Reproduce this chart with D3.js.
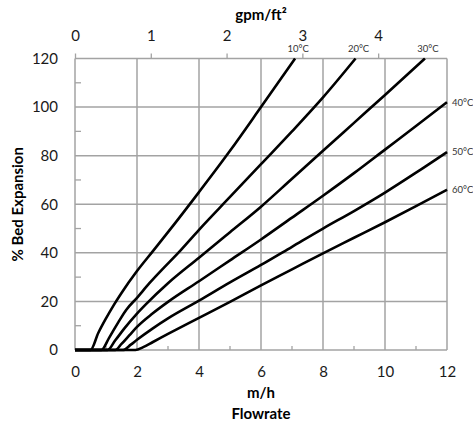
<!DOCTYPE html>
<html>
<head>
<meta charset="utf-8">
<script src="https://cdn.jsdelivr.net/npm/d3@7"></script>
<style>
  body { margin: 0; background: #fff; }
  svg { display: block; font-family: Lato, "Open Sans", sans-serif; }
</style>
</head>
<body>
<div id="chart"></div>
<script>
// data: flowrate (m/h) vs % bed expansion
var temps = ["10°C", "20°C", "30°C", "40°C", "50°C", "60°C"];

var flow10 = [0, 0.5, 0.75, 1.0, 1.25, 1.5, 2.0, 2.5, 3.0, 4.0, 5.0, 6.0, 7.1];
var bed10  = [0, 0, 7, 13, 18.5, 23.5, 32.5, 40.5, 48.5, 65, 82, 100, 120];

var flow20 = [0, 0.85, 1.1, 1.4, 1.65, 2.0, 2.4, 2.8, 3.33, 4, 5, 6, 7, 8, 9.05];
var bed20  = [0, 0, 5, 11.5, 16.5, 21.5, 27.5, 33, 40, 49.5, 63, 76.5, 90, 104, 120];

var flow30 = [0, 1.05, 1.3, 1.6, 2.0, 2.3, 3, 4, 5, 6, 7, 8, 9, 10, 11.29];
var bed30  = [0, 0, 4, 9, 15, 19, 27.5, 38, 48.5, 59, 70.5, 82, 93.5, 105, 120];

var flow40 = [0, 1.3, 1.5, 1.75, 2, 2.5, 3, 4, 5, 6, 7, 8, 9, 10, 11, 12];
var bed40  = [0, 0, 2.5, 6, 9.5, 15, 19.8, 28.3, 36.9, 45.5, 54.5, 63.5, 72.8, 82.5, 92.2, 102];

var flow50 = [0, 1.55, 1.8, 2, 2.5, 3, 4, 5, 6, 7, 8, 9, 10, 11, 12];
var bed50  = [0, 0, 2.2, 4.2, 8.8, 13, 20.3, 27.8, 35, 42.5, 50, 57.2, 64.8, 73, 81.5];

var flow60 = [0, 1.95, 2.2, 2.5, 3, 4, 5, 6, 7, 8, 9, 10, 11, 12];
var bed60  = [0, 0, 1.2, 3.2, 6.6, 13.2, 19.8, 26.6, 33.2, 39.8, 46.2, 52.6, 59.2, 66];

var xTicks = [0, 2, 4, 6, 8, 10, 12];
var yTicks = [0, 20, 40, 60, 80, 100, 120];
var topTicks = [0, 1, 2, 3, 4];
var mhPerGpm = 2.4448; // 1 gpm/ft2 in m/h

var flows = [flow10, flow20, flow30, flow40, flow50, flow60];
var beds = [bed10, bed20, bed30, bed40, bed50, bed60];
var series = temps.map(function(t, i) {
  return { name: t, points: flows[i].map(function(f, j) { return { x: f, y: beds[i][j] }; }) };
});

var svgWidth = 473, svgHeight = 426;
var margin = {top: 58.5, right: 26, bottom: 76, left: 75};
var width = svgWidth - margin.left - margin.right;
var height = svgHeight - margin.top - margin.bottom;

var svg = d3.select("#chart").append("svg")
    .attr("width", svgWidth)
    .attr("height", svgHeight);
var g = svg.append("g").attr("transform", "translate(" + margin.left + "," + margin.top + ")");

var x = d3.scaleLinear().domain([0, 12]).range([0, width]);
var y = d3.scaleLinear().domain([0, 120]).range([height, 0]);
var xTop = d3.scaleLinear().domain([0, 12 / mhPerGpm]).range([0, width]);

var gridColor = "#a3a3a3";

// grid
g.selectAll(".vgrid").data(xTicks).enter().append("line")
    .attr("x1", function(d) { return x(d); })
    .attr("x2", function(d) { return x(d); })
    .attr("y1", 0).attr("y2", height)
    .attr("stroke", gridColor).attr("stroke-width", 1.5);
g.selectAll(".hgrid").data(yTicks).enter().append("line")
    .attr("x1", 0).attr("x2", width)
    .attr("y1", function(d) { return y(d); })
    .attr("y2", function(d) { return y(d); })
    .attr("stroke", gridColor).attr("stroke-width", 1.5);

// minor ticks (inside)
g.selectAll(".ymin").data(d3.range(10, 120, 20)).enter().append("line")
    .attr("x1", 0).attr("x2", 6)
    .attr("y1", function(d) { return y(d); })
    .attr("y2", function(d) { return y(d); })
    .attr("stroke", gridColor).attr("stroke-width", 1.3);
g.selectAll(".xmin").data(d3.range(1, 12, 2)).enter().append("line")
    .attr("x1", function(d) { return x(d); })
    .attr("x2", function(d) { return x(d); })
    .attr("y1", height).attr("y2", height - 4)
    .attr("stroke", gridColor).attr("stroke-width", 1.3);

// axes
var yAxis = g.append("g")
    .call(d3.axisLeft(y).tickValues(yTicks).tickSize(0).tickPadding(17));
yAxis.select(".domain").remove();
yAxis.selectAll("text").attr("font-size", 15).attr("fill", "#1a1a1a").attr("font-family", "Lato, sans-serif");

var xAxis = g.append("g")
    .attr("transform", "translate(0," + height + ")")
    .call(d3.axisBottom(x).tickValues(xTicks).tickSize(0));
xAxis.select(".domain").remove();
xAxis.selectAll("text").attr("y", 22).attr("dy", "0.35em")
    .attr("font-size", 15).attr("fill", "#1a1a1a").attr("font-family", "Lato, sans-serif");

var topAxis = g.append("g")
    .call(d3.axisTop(xTop).tickValues(topTicks).tickSize(5).tickFormat(d3.format("d")));
topAxis.select(".domain").remove();
topAxis.selectAll("line").attr("stroke", gridColor).attr("stroke-width", 1.3);
topAxis.selectAll("text").attr("y", -23).attr("dy", "0.35em")
    .attr("font-size", 15).attr("fill", "#1a1a1a").attr("font-family", "Lato, sans-serif");

// curves
svg.append("defs").append("clipPath").attr("id", "plot-clip")
  .append("rect").attr("x", -2).attr("y", -1).attr("width", width + 4).attr("height", height + 3);

var line = d3.line()
    .x(function(d) { return x(d.x); })
    .y(function(d) { return y(d.y); })
    .curve(d3.curveMonotoneX);

g.append("g").attr("clip-path", "url(#plot-clip)")
  .selectAll("path").data(series).enter().append("path")
    .attr("d", function(d) { return line(d.points); })
    .attr("fill", "none")
    .attr("stroke", "#000")
    .attr("stroke-width", 2.6);

// curve labels
series.forEach(function(s) {
  var last = s.points[s.points.length - 1];
  var lbl = g.append("text").text(s.name)
      .attr("font-size", 9.5).attr("fill", "#333");
  if (last.y >= 120) {
    lbl.attr("x", x(last.x) + 3).attr("y", y(120) - 6.5).attr("text-anchor", "middle");
  } else {
    lbl.attr("x", x(last.x) + 5).attr("y", y(last.y)).attr("dy", "0.35em");
  }
});

// titles
g.append("text").text("gpm/ft²")
    .attr("x", width / 2).attr("y", -44).attr("dy", "0.35em")
    .attr("text-anchor", "middle").attr("font-weight", "bold").attr("font-size", 15);
g.append("text").text("m/h")
    .attr("x", width / 2).attr("y", height + 43).attr("dy", "0.35em")
    .attr("text-anchor", "middle").attr("font-weight", "bold").attr("font-size", 15);
g.append("text").text("Flowrate")
    .attr("x", width / 2).attr("y", height + 64).attr("dy", "0.35em")
    .attr("text-anchor", "middle").attr("font-weight", "bold").attr("font-size", 15);
g.append("text").text("% Bed Expansion")
    .attr("transform", "translate(" + (18 - margin.left) + "," + (height / 2) + ") rotate(-90)")
    .attr("dy", "0.35em")
    .attr("text-anchor", "middle").attr("font-weight", "bold").attr("font-size", 15);
</script>
</body>
</html>
